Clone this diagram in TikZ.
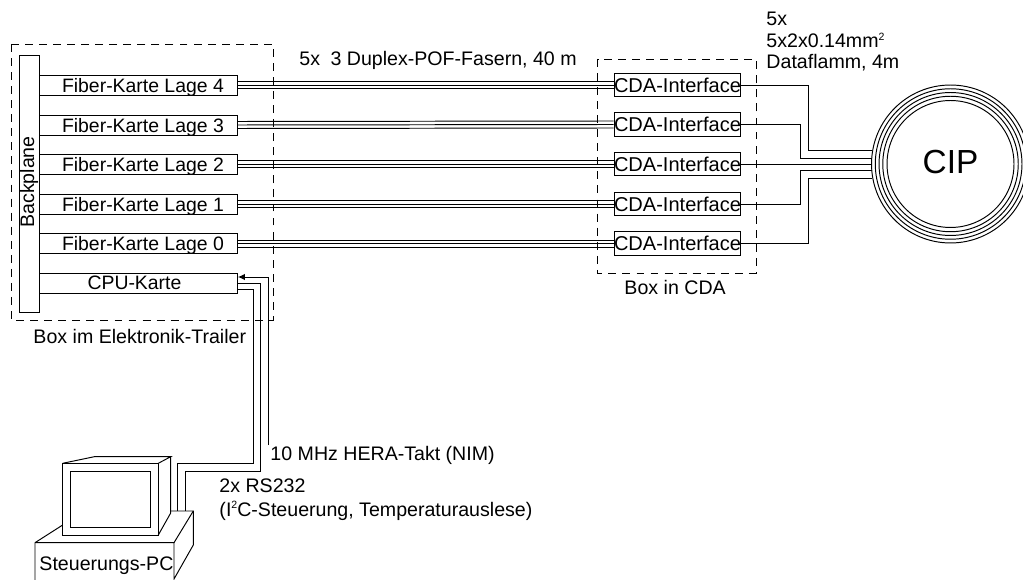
\documentclass[tikz,border=0pt]{standalone}
\usepackage{fontspec}
\setmainfont{Liberation Sans}
\usetikzlibrary{arrows.meta}
\newcommand{\hochzwei}{\smash{\raisebox{0.72ex}{\fontsize{6}{6}\selectfont 2}}}
\begin{document}
\begin{tikzpicture}[
    x=0.02cm, y=-0.02cm,
    line width=0.55pt,
    card/.style={rectangle, draw=black, fill=white, minimum width=3.96cm, minimum height=0.4cm, inner sep=0pt, text depth=0pt, font=\fontsize{11.05}{13}\selectfont, anchor=west},
    fibercard/.style={card, execute at begin node=\hspace{0.18cm}},
    interface/.style={rectangle, draw=black, fill=white, minimum width=2.54cm, minimum height=0.47cm, inner sep=0pt, font=\fontsize{11.4}{13}\selectfont, anchor=west},
    dashbox/.style={draw=black, dash pattern=on 4.5pt off 3.5pt},
    caption/.style={anchor=west, inner sep=0pt, font=\fontsize{11.15}{13}\selectfont},
    ring/.style={circle, draw=black, inner sep=0pt}
]
    \useasboundingbox (0,0) rectangle (1023,580);

    % --- BOX LEFT: ELEKTRONIK-TRAILER ---
    \draw[dashbox] (11,44) rectangle (273,320);
    \node[rectangle, draw=black, minimum width=0.4cm, minimum height=5.16cm, inner sep=0pt] (backplane) at (29,184) {};
    \node[rotate=90, inner sep=0pt, font=\fontsize{11.15}{13}\selectfont] (backplanetext) at (29,182) {Backplane};
    \node[fibercard] (lage4) at (39,85) {Fiber-Karte Lage 4};
    \node[fibercard] (lage3) at (39,125) {Fiber-Karte Lage 3};
    \node[fibercard] (lage2) at (39,164) {Fiber-Karte Lage 2};
    \node[fibercard] (lage1) at (39,204) {Fiber-Karte Lage 1};
    \node[fibercard] (lage0) at (39,243.5) {Fiber-Karte Lage 0};
    \node[card] (cpu) at (39,283) {\hspace{-0.16cm}CPU-Karte};
    \node[caption] (trailer) at (33,336) {Box im Elektronik-Trailer};

    % --- BOX RIGHT: CDA ---
    \draw[dashbox] (597.5,59) rectangle (756,273);
    \node[interface] (cda4) at (613.5,85) {CDA-Interface};
    \node[interface] (cda3) at (613.5,124.5) {CDA-Interface};
    \node[interface] (cda2) at (613.5,164) {CDA-Interface};
    \node[interface] (cda1) at (613.5,204) {CDA-Interface};
    \node[interface] (cda0) at (613.5,243.5) {CDA-Interface};
    \node[caption] (boxcda) at (624,287.5) {Box in CDA};

    % --- FIBER BUNDLES ---
    \draw ([yshift=0.07cm]lage4.east) -- ([yshift=0.07cm]cda4.west);
    \draw (lage4.east) -- (cda4.west);
    \draw ([yshift=-0.07cm]lage4.east) -- ([yshift=-0.07cm]cda4.west);
    \draw ([yshift=0.07cm]lage3.east) -- ([yshift=0.07cm]cda3.west);
    \draw (lage3.east) -- (cda3.west);
    \draw ([yshift=-0.07cm]lage3.east) -- ([yshift=-0.07cm]cda3.west);
    \draw ([yshift=0.07cm]lage2.east) -- ([yshift=0.07cm]cda2.west);
    \draw (lage2.east) -- (cda2.west);
    \draw ([yshift=-0.07cm]lage2.east) -- ([yshift=-0.07cm]cda2.west);
    \draw ([yshift=0.07cm]lage1.east) -- ([yshift=0.07cm]cda1.west);
    \draw (lage1.east) -- (cda1.west);
    \draw ([yshift=-0.07cm]lage1.east) -- ([yshift=-0.07cm]cda1.west);
    \draw ([yshift=0.07cm]lage0.east) -- ([yshift=0.07cm]cda0.west);
    \draw (lage0.east) -- (cda0.west);
    \draw ([yshift=-0.07cm]lage0.east) -- ([yshift=-0.07cm]cda0.west);
    \node[caption] (fasern) at (299,60) {5x\hspace{0.1cm} 3 Duplex-POF-Fasern, 40 m};

    % --- CIP RINGS ---
    \node[ring, minimum size=3.16cm] (cip4) at (950.5,164) {};
    \node[ring, minimum size=3.01cm] (cip3) at (950.5,164) {};
    \node[ring, minimum size=2.86cm] (cip2) at (950.5,164) {};
    \node[ring, minimum size=2.71cm] (cip1) at (950.5,164) {};
    \node[ring, minimum size=2.54cm, text depth=0.08cm, font=\fontsize{19}{23}\selectfont] (cip) at (950.5,164) {CIP};

    % --- DATAFLAMM CABLES ---
    \coordinate (in4) at (871.5,150.3);
    \coordinate (in3) at (871.5,158.3);
    \coordinate (in2) at (871.5,164);
    \coordinate (in1) at (871.5,170.3);
    \coordinate (in0) at (871.5,178.3);
    \draw (cda4.east) -| (808,150.3) -- (in4);
    \draw (cda3.east) -| (800,158.3) -- (in3);
    \draw (cda2.east) -- (in2);
    \draw (cda1.east) -| (800,170.3) -- (in1);
    \draw (cda0.east) -| (808,178.3) -- (in0);
    \node[caption] (kabel1) at (766,19) {5x};
    \node[caption] (kabel2) at (766,41) {5x2x0.14mm\hochzwei};
    \node[caption] (kabel3) at (766,63) {Dataflamm, 4m};

    % --- STEUERUNGS-PC ---
    \draw (62.7,525) -- (35,542.7) -- (35,580);
    \draw (35,542.7) -- (174,542.7) -- (174,579) -- (193.3,545) -- (193.3,511) -- (170.7,511);
    \draw (174,542.7) -- (193.3,511);
    \draw (62.7,463.3) -- (94.3,456.7) -- (170.7,456.7) -- (158.3,463.3);
    \draw (170.7,456.7) -- (170.7,513) -- (158.3,535);
    \draw (62.7,463.3) rectangle (158.3,535);
    \draw (70.7,471.7) rectangle (150,527.3);
    \node[caption] (pc) at (39,565.5) {Steuerungs-PC};
    \coordinate (pcport1) at (177.3,511);
    \coordinate (pcport2) at (185,511);

    % --- CPU CABLES ---
    \coordinate (taktend) at (268.7,445);
    \draw[-{Latex[length=0.14cm, width=0.13cm]}] (taktend) |- ([yshift=0.12cm]cpu.east);
    \draw (cpu.east) -| (260.7,471) -| (pcport2);
    \draw ([yshift=-0.12cm]cpu.east) -| (253.3,463.3) -| (pcport1);
    \node[caption] (takt) at (270,455) {10 MHz HERA-Takt (NIM)};
    \node[caption] (rs232) at (219,485.5) {2x RS232};
    \node[caption] (auslese) at (219,511) {(I\hochzwei C-Steuerung, Temperaturauslese)};
\end{tikzpicture}
\end{document}
